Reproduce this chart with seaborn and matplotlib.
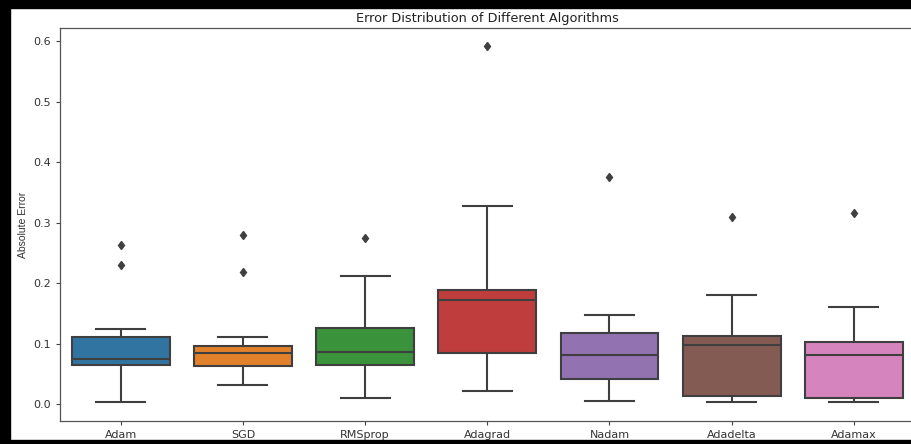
import matplotlib
matplotlib.use('Agg')
import matplotlib.pyplot as plt
import seaborn as sns
import pandas as pd
from matplotlib.patches import Rectangle

algorithms = ['Adam', 'SGD', 'RMSprop', 'Adagrad', 'Nadam', 'Adadelta', 'Adamax']
adam = [0.003, 0.040, 0.062, 0.065, 0.068, 0.071, 0.074, 0.090, 0.105, 0.111, 0.1245, 0.230, 0.264]
sgd = [0.032, 0.050, 0.060, 0.063, 0.070, 0.078, 0.084, 0.088, 0.092, 0.0957, 0.111, 0.219, 0.280]
rmsprop = [0.0105, 0.030, 0.050, 0.0645, 0.070, 0.080, 0.0855, 0.100, 0.115, 0.126, 0.160, 0.2128, 0.2755]
adagrad = [0.021, 0.050, 0.070, 0.0848, 0.120, 0.150, 0.173, 0.178, 0.185, 0.1895, 0.250, 0.328, 0.593]
nadam = [0.005, 0.020, 0.030, 0.042, 0.060, 0.070, 0.081, 0.090, 0.105, 0.117, 0.130, 0.147, 0.375]
adadelta = [0.0033, 0.006, 0.010, 0.0137, 0.050, 0.080, 0.0975, 0.102, 0.108, 0.1135, 0.140, 0.180, 0.310]
adamax = [0.0033, 0.005, 0.007, 0.0094, 0.040, 0.070, 0.082, 0.090, 0.097, 0.1025, 0.130, 0.160, 0.317]

errors = [adam, sgd, rmsprop, adagrad, nadam, adadelta, adamax]
df = pd.DataFrame({
    'Algorithm': [a for a, e in zip(algorithms, errors) for _ in e],
    'Absolute Error': [v for e in errors for v in e],
})

fig = plt.figure(figsize=(9.12, 4.44), dpi=100)
ax = fig.add_axes([59.6 / 912, 1 - 420.5 / 444, 855.4 / 912, 393 / 444])

sns.boxplot(data=df, x='Algorithm', y='Absolute Error', hue='Algorithm',
            palette='tab10', saturation=0.75, width=0.8, linecolor='#3f3f3f',
            linewidth=1.5, legend=False, ax=ax,
            flierprops=dict(marker='d', markerfacecolor='#3f3f3f',
                            markeredgecolor='#3f3f3f', markersize=4.5))

ax.set_ylim(-0.027, 0.623)
ax.set_yticks([0.0, 0.1, 0.2, 0.3, 0.4, 0.5, 0.6])
ax.tick_params(labelsize=8, length=3, colors='#444444', labelcolor='#333333')
ax.set_xlabel('')
ax.set_ylabel('Absolute Error', fontsize=7.5, color='#333333',
              family=['Liberation Sans Narrow', 'Liberation Sans', 'DejaVu Sans'])
ax.yaxis.set_label_coords(-0.037, 0.497)
ax.set_title('Error Distribution of Different Algorithms', fontsize=9.3, pad=4, color='#222222')
for s in ax.spines.values():
    s.set_color('#555555')
    s.set_linewidth(0.9)

# screenshot frame
fig.patches.append(Rectangle((0, 0), 10 / 912, 1, transform=fig.transFigure, color='black', zorder=10))
fig.patches.append(Rectangle((0, 1 - 8 / 444), 1, 8 / 444, transform=fig.transFigure, color='black', zorder=10))
fig.patches.append(Rectangle((0, 0), 1, 4 / 444, transform=fig.transFigure, color='black', zorder=10))

fig.savefig('out.png', dpi=100)
